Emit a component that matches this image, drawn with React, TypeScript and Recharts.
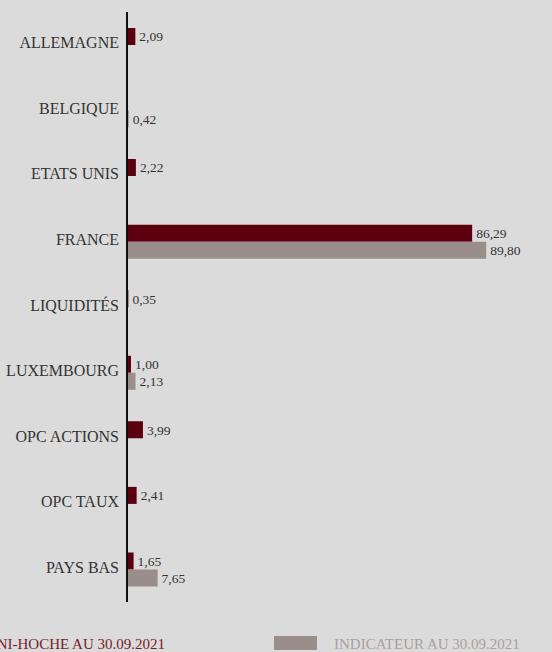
import React from 'react';
import { BarChart, Bar, XAxis, YAxis, Legend, LabelList } from 'recharts';

const categories = ['ALLEMAGNE', 'BELGIQUE', 'ETATS UNIS', 'FRANCE', 'LIQUIDITÉS', 'LUXEMBOURG', 'OPC ACTIONS', 'OPC TAUX', 'PAYS BAS'];
const fundValues: (number | null)[] = [2.09, null, 2.22, 86.29, 0.35, 1.0, 3.99, 2.41, 1.65];
const indexValues: (number | null)[] = [null, 0.42, null, 89.8, null, 2.13, null, null, 7.65];
const fundLabel = 'NI-HOCHE AU 30.09.2021';
const indexLabel = 'INDICATEUR AU 30.09.2021';

const data = categories.map((name, i) => ({ name, fund: fundValues[i], index: indexValues[i] }));

const FONT = '"Liberation Serif", "Times New Roman", serif';
const DARK = '#5c000f';
const GREY = '#998e8a';

const fmt = (v: any) => (v == null || v === '' ? '' : Number(v).toFixed(2).replace('.', ','));

const CategoryTick = (props: any) => {
  const { x, y, payload } = props;
  return (
    <text x={x} y={y} dy={3.5} textAnchor="end" fontSize={16} fill="#333" fontFamily={FONT}>
      {payload.value}
    </text>
  );
};

const renderLegend = () => (
  <div style={{ position: 'relative', width: 552, height: 18, fontFamily: FONT, fontSize: 15 }}>
    <div style={{ position: 'absolute', right: 552 - 165, top: 2, lineHeight: '17px', color: '#7a1c28', whiteSpace: 'nowrap' }}>{fundLabel}</div>
    <div style={{ position: 'absolute', left: 274, top: 2, width: 43, height: 14, background: GREY }} />
    <div style={{ position: 'absolute', left: 334, top: 2, lineHeight: '17px', color: '#a8a09e', whiteSpace: 'nowrap' }}>{indexLabel}</div>
  </div>
);

export default function App() {
  return (
    <div style={{ position: 'absolute', left: 0, top: 0, width: 552, height: 652, background: '#dbdbdb', overflow: 'hidden' }}>
      <BarChart
        width={552}
        height={652}
        data={data}
        layout="vertical"
        margin={{ top: 12, right: 25, bottom: 32, left: 0 }}
        barGap={0}
        barSize={17}
      >
        <XAxis type="number" domain={[0, 100]} hide />
        <YAxis
          type="category"
          dataKey="name"
          width={127}
          tickLine={false}
          axisLine={{ stroke: '#111', strokeWidth: 2 }}
          tick={<CategoryTick />}
          interval={0}
        />
        <Legend content={renderLegend} wrapperStyle={{ position: 'absolute', left: 0, top: 634, width: 552, height: 18 }} />
        <Bar dataKey="fund" name={fundLabel} fill={DARK} isAnimationActive={false}>
          <LabelList dataKey="fund" position="right" offset={4} formatter={fmt} style={{ fontSize: 13.5, fill: '#333', fontFamily: FONT }} />
        </Bar>
        <Bar dataKey="index" name={indexLabel} fill={GREY} isAnimationActive={false}>
          <LabelList dataKey="index" position="right" offset={4} formatter={fmt} style={{ fontSize: 13.5, fill: '#333', fontFamily: FONT }} />
        </Bar>
      </BarChart>
    </div>
  );
}
